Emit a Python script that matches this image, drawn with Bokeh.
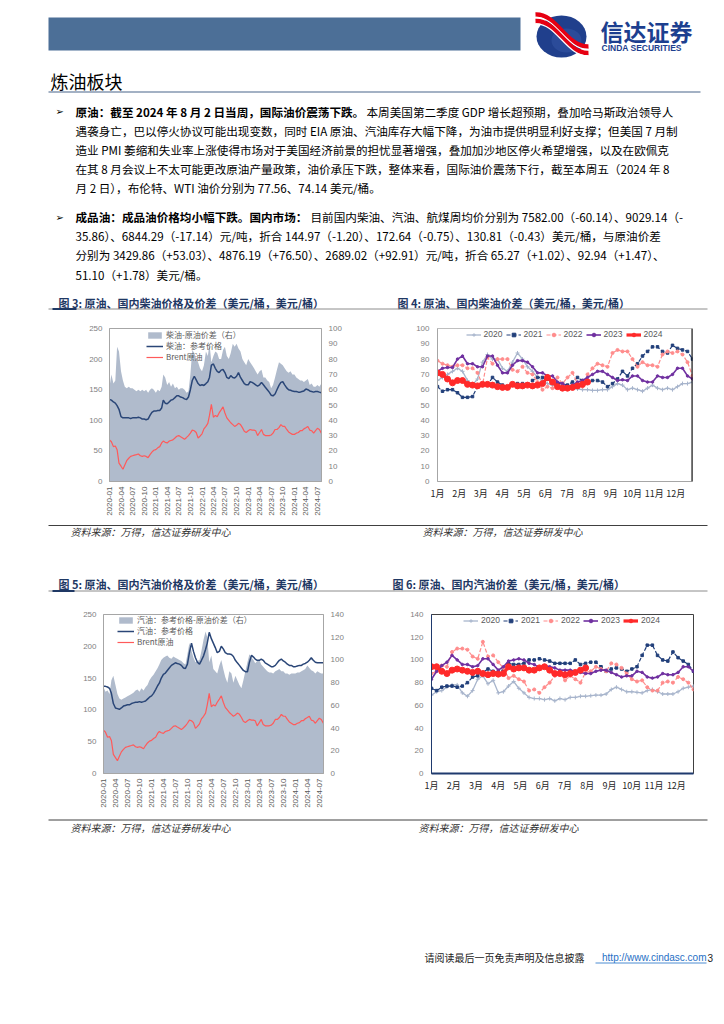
import math
import pandas as pd
from bokeh.plotting import figure
from bokeh.models import (Range1d, LinearAxis, FixedTicker, Legend, LegendItem,
                          DatetimeTickFormatter, Span)
from bokeh.layouts import column, row
from bokeh.embed import file_html
from bokeh.resources import INLINE
from bokeh.core.properties import value

CJK = "Noto Sans CJK SC"
LAT = "Liberation Sans"
NAVY = "#1f3864"
BODY = "11.6px"

# ---------------- data ----------------
month_starts = pd.date_range("2020-01-01", "2024-08-01", freq="MS")
half_month = []
for d in month_starts:
    half_month.append(d)
    if d != month_starts[-1]:
        half_month.append(d + pd.Timedelta(days=15))
dates = pd.DatetimeIndex(half_month)
date_end = pd.Timestamp("2024-08-02")
quarter_ticks = pd.date_range("2020-01-01", "2024-07-01", freq="QS")

brent = [
    68, 65, 57, 58, 52, 30, 25, 20, 27, 34, 38, 41, 42, 43, 44, 45, 42, 41, 42, 41, 39, 44, 48, 51,
    52, 55, 57, 63, 66, 64, 63, 66, 67, 68, 71, 74, 75, 73, 71, 69, 72, 75, 79, 84, 83, 80, 71, 74,
    78, 86, 90, 95, 108, 126, 105, 108, 106, 112, 117, 122, 112, 104, 100, 96, 93, 90, 92, 95, 93, 88, 82, 80,
    83, 85, 84, 84, 83, 75, 80, 85, 77, 75, 75, 75, 76, 79, 85, 85, 88, 93, 90, 90, 85, 81, 79, 77,
    77, 79, 80, 83, 83, 86, 88, 90, 84, 83, 79, 83, 87, 85, 79]
diesel_price = [
    134, 133, 130, 128, 124, 118, 106, 104, 104, 104, 104, 103, 104, 104, 104, 105, 104, 102, 102, 101, 102, 108, 113, 115,
    115, 116, 116, 120, 133, 128, 127, 130, 133, 134, 137, 140, 140, 138, 137, 135, 134, 138, 150, 165, 172, 166, 160, 157,
    158, 157, 160, 163, 170, 190, 192, 185, 180, 178, 182, 183, 178, 170, 168, 173, 170, 169, 172, 178, 170, 165, 160, 158,
    158, 163, 162, 160, 158, 156, 158, 162, 158, 154, 150, 146, 141, 140, 143, 150, 157, 162, 163, 158, 153, 150, 149, 148,
    147, 147, 146, 146, 147, 148, 151, 150, 148, 147, 146, 147, 147, 146, 145]
diesel_spread = [
    62, 70, 64, 66, 88, 85, 72, 66, 62, 61, 62, 61, 61, 60, 59, 60, 59, 60, 59, 60, 58, 60, 61, 60,
    58, 60, 59, 62, 70, 68, 63, 65, 62, 64, 61, 62, 60, 61, 61, 60, 58, 59, 70, 86, 84, 80, 78, 74,
    72, 76, 85, 82, 90, 78, 82, 85, 84, 80, 80, 86, 88, 82, 80, 84, 90, 88, 90, 87, 85, 80, 78, 76,
    80, 78, 76, 74, 72, 70, 72, 73, 68, 68, 66, 65, 61, 63, 68, 73, 78, 77, 76, 74, 72, 71, 72, 70,
    70, 68, 67, 66, 66, 65, 66, 67, 63, 64, 62, 62, 63, 62, 64]
gasoline_price = [
    137, 137, 136, 134, 126, 110, 103, 102, 101, 103, 106, 107, 108, 108, 110, 111, 112, 112, 113, 112, 113, 114, 117, 120,
    122, 126, 132, 138, 142, 150, 156, 158, 162, 166, 170, 172, 174, 173, 172, 170, 166, 165, 172, 190, 205, 192, 182, 175,
    172, 178, 185, 195, 205, 222, 212, 205, 198, 190, 192, 200, 196, 190, 188, 188, 187, 184, 178, 174, 170, 166, 162, 160,
    160, 175, 186, 183, 180, 178, 178, 180, 178, 174, 172, 170, 168, 168, 170, 174, 178, 180, 177, 175, 172, 170, 170, 168,
    168, 169, 170, 170, 172, 173, 175, 178, 182, 178, 175, 174, 174, 174, 174]
gasoline_spread = [
    76, 72, 73, 70, 82, 86, 78, 70, 66, 65, 66, 67, 68, 69, 70, 71, 73, 74, 72, 75, 73, 76, 78, 82,
    85, 87, 90, 93, 96, 100, 102, 103, 104, 102, 101, 103, 102, 101, 100, 99, 97, 96, 105, 115, 108, 102, 98, 99,
    100, 108, 118, 125, 120, 98, 104, 92, 90, 88, 95, 100, 92, 85, 80, 90, 88, 80, 86, 82, 78, 75, 82, 90,
    98, 105, 102, 100, 97, 99, 100, 96, 94, 92, 90, 89, 89, 88, 90, 91, 92, 90, 90, 88, 88, 87, 88, 88,
    88, 89, 89, 90, 91, 92, 95, 93, 91, 90, 88, 90, 89, 88, 88]

month_labels = ["1月", "2月", "3月", "4月", "5月", "6月", "7月", "8月", "9月", "10月", "11月", "12月"]
years = ["2020", "2021", "2022", "2023", "2024"]

diesel_crack = {
    "2020": [66, 68, 70, 72, 74, 72, 66, 63, 67, 78, 83, 80, 80, 74, 72, 78, 84, 80, 75, 72, 68, 66, 64, 63, 62, 62,
             61, 61, 60.5, 60, 60, 59.5, 59.5, 60, 60, 62, 64, 63, 60, 61, 60, 59, 61, 63, 61, 60, 61, 60, 62, 64, 64, 65],
    "2021": [62, 59, 60, 60, 58, 55, 55, 55.5, 62, 63, 63, 68, 65, 63, 62, 63, 64, 64, 63, 66, 68, 68, 67, 65, 64, 64,
             63, 65, 68, 66, 65, 66, 66, 65, 62, 64, 67, 72, 69, 74, 77, 82, 85, 88, 88, 85, 84, 89, 87, 86, 85, 80],
    "2022": [79, 77, 76, 75, 76, 76, 74, 74, 71, 63, 81, 77, 80, 80, 80, 73, 72, 75, 71, 70, 65, 60, 62, 61, 68, 64,
             68, 71, 64, 62, 70, 74, 77, 76, 75, 84, 86, 85, 85, 80, 75, 78, 76, 76, 75, 83, 85, 84, 85, 83, 78, 69],
    "2023": [72, 74, 74.5, 74.5, 80, 82, 77, 77, 75, 75, 82, 82, 76, 71, 71, 76, 79, 79, 78, 75, 71, 71, 69, 69, 65, 64,
             62, 63, 65, 66, 68, 70, 72, 72, 70, 68, 66, 66.5, 66, 69, 69, 66, 65, 65, 69, 68, 68, 70, 74, 74, 69, 67],
    "2024": [71, 70, 67, 64.5, 66, 66, 63.5, 63, 62.5, 63.5, 63.5, 63, 62, 61.5, 61.5, 63.5, 62.5, 62.5, 63, 62.5, 63,
             64, 68, 65, 62, 61, 61, 61.5, 62.5, 63.5, 65],
}
gasoline_crack = {
    "2020": [69, 72, 73, 76, 78, 78, 71, 68, 73, 83, 86, 79, 82, 71, 72, 77, 81, 75, 71, 67, 66, 66, 65, 66, 64, 66,
             65, 67, 67, 68, 68, 68.5, 69, 69, 70, 74, 76, 74, 72, 72, 71.5, 71, 73, 74, 72, 70, 70, 70, 72, 75, 76, 77],
    "2021": [75, 73, 76, 77, 77, 76, 77, 80, 85, 86, 89, 92, 90, 89, 91, 97, 96, 96, 97, 100, 100, 101, 100, 99, 97, 97,
             97, 97, 100, 96, 97, 98, 98, 94, 90, 92, 93, 92, 90, 92, 94, 104, 113, 113, 104, 100, 99, 107, 102, 99, 96, 90],
    "2022": [88, 90, 95, 94, 107, 110, 110, 109, 103, 101, 116, 103, 104, 98, 93, 84, 86, 83, 81, 73, 74, 71, 76, 80, 86, 89,
             82, 86, 83, 80, 89, 90, 94, 92, 90, 97, 96, 93, 88, 83, 81, 82, 76, 73, 73, 80, 81, 80, 85, 83, 80, 74],
    "2023": [83, 90, 95, 98, 104, 100, 96, 96, 94, 95, 101, 101, 96, 91, 94, 99, 100, 101, 100, 97, 96, 93, 95, 94, 93, 91,
             91, 91, 90, 89, 88, 88, 90, 91, 91, 89, 87, 85, 86, 86, 90, 89, 85, 84, 85, 88, 87, 87, 89, 94, 94, 90],
    "2024": [94, 94, 90, 88, 91, 92, 91, 90, 89, 90, 88, 87, 88, 87.5, 88, 94, 92, 93, 93, 91, 91, 93, 94, 91, 88, 88,
             87, 88, 89, 91, 93],
}

year_styles = {
    "2020": dict(color="#a8b5cc", width=1.3, dash="solid", marker="cross", size=4),
    "2021": dict(color="#213f7a", width=1.2, dash="4 2", marker="square", size=2.5),
    "2022": dict(color="#ff8c8c", width=1.2, dash="4 2", marker="circle", size=3),
    "2023": dict(color="#7030a0", width=1.6, dash="solid", marker="circle", size=2.5),
    "2024": dict(color="#ff2a2a", width=3.2, dash="solid", marker="circle", size=6),
}


# ---------------- helpers ----------------
def page_fig(y0, y1):
    p = figure(width=724, height=y1 - y0, x_range=Range1d(0, 724), y_range=Range1d(y1, y0),
               title=None, x_axis_location=None, y_axis_location=None, toolbar_location=None,
               output_backend="svg", min_border=0, outline_line_color=None)
    p.xgrid.visible = False
    p.ygrid.visible = False
    return p


def put(p, x, y, s, size=BODY, color="black", style="normal", font=CJK, align="left"):
    p.text(x=[x], y=[y], text=[s], text_font=value(font), text_font_size=size,
           text_color=color, text_font_style=style, text_align=align, text_baseline="middle")


def hline(p, x0, x1, y, color="#404040", width=1.0):
    p.line([x0, x1], [y, y], line_color=color, line_width=width)


def no_ticks(ax):
    ax.major_tick_line_color = None
    ax.minor_tick_line_color = None
    ax.major_tick_out = 0
    ax.major_tick_in = 0
    ax.minor_tick_out = 0
    ax.minor_tick_in = 0
    ax.axis_label_standoff = 0


def style_yaxes(p, standoff=7):
    for ax in p.yaxis:
        ax.major_label_text_font_size = "8px"
        ax.major_label_text_font = LAT
        ax.major_label_text_color = "#7f7f7f"
        ax.axis_line_color = "#a6a6a6"
        no_ticks(ax)
        ax.major_label_standoff = standoff


def price_chart(spread, price, right_end, right_step, labels, borders, height, legend_xy):
    l, r, t, b = borders
    p = figure(width=362, height=height, title=None, x_axis_type="datetime",
               x_range=Range1d(dates[0], date_end), y_range=Range1d(0, 250),
               toolbar_location=None, output_backend="svg",
               min_border_left=l, min_border_right=r, min_border_top=t, min_border_bottom=b,
               outline_line_color="#a6a6a6", background_fill_color="white", border_fill_color="white")
    p.xgrid.visible = False
    p.ygrid.visible = False
    p.extra_y_ranges = {"right": Range1d(0, right_end)}
    a = p.varea(x=dates, y1=0, y2=spread, y_range_name="right", fill_color="#b0bbcc")
    l1 = p.line(dates, price, line_color="#2a4677", line_width=1.5)
    l2 = p.line(dates, brent, line_color="#ff5a5a", line_width=1.2)
    p.yaxis.ticker = FixedTicker(ticks=list(range(0, 251, 50)))
    rax = LinearAxis(y_range_name="right", ticker=FixedTicker(ticks=list(range(0, right_end + 1, right_step))))
    p.add_layout(rax, "right")
    style_yaxes(p)
    xa = p.xaxis[0]
    xa.ticker = FixedTicker(ticks=[int(t.value // 10**6) for t in quarter_ticks])
    fmt = "%Y-%m"
    xa.formatter = DatetimeTickFormatter(microseconds=fmt, milliseconds=fmt, seconds=fmt, minsec=fmt,
                                         minutes=fmt, hourmin=fmt, hours=fmt, days=fmt, months=fmt,
                                         years=fmt, strip_leading_zeros=False)
    xa.major_label_orientation = math.pi / 2
    xa.major_label_text_font_size = "8px"
    xa.major_label_text_font = LAT
    xa.major_label_text_color = "#595959"
    xa.axis_line_color = "#a6a6a6"
    no_ticks(xa)
    xa.major_label_standoff = 5
    legend = Legend(items=[LegendItem(label=labels[0], renderers=[a]),
                           LegendItem(label=labels[1], renderers=[l1]),
                           LegendItem(label=labels[2], renderers=[l2])],
                    location=legend_xy, orientation="vertical", background_fill_alpha=0,
                    border_line_color=None, padding=0, margin=0, spacing=0,
                    glyph_width=17, glyph_height=8, label_height=8, label_standoff=3,
                    label_text_font=CJK, label_text_font_size="8px", label_text_color="#595959",
                    label_text_line_height=1.0)
    p.add_layout(legend)
    return p


def crack_chart(data, ymax, ystep, borders, height, kind):
    l, r, t, b = borders
    xend = 51 * 12 / 52
    p = figure(width=362, height=height, title=None, x_range=Range1d(0, xend), y_range=Range1d(0, ymax),
               toolbar_location=None, output_backend="svg",
               min_border_left=l, min_border_right=r, min_border_top=t, min_border_bottom=b,
               background_fill_color="white", border_fill_color="white")
    p.xgrid.visible = False
    p.ygrid.visible = False
    items = []
    for y in years:
        vals = data[y]
        st = year_styles[y]
        xs = [i * 12 / 52 for i in range(len(vals))]
        ln = p.line(xs, vals, line_color=st["color"], line_width=st["width"], line_dash=st["dash"])
        mk = p.scatter(xs, vals, marker=st["marker"], size=st["size"], line_color=st["color"],
                       fill_color=st["color"], line_width=1)
        items.append(LegendItem(label=y, renderers=[ln, mk]))
    p.yaxis.ticker = FixedTicker(ticks=list(range(0, ymax + 1, ystep)))
    style_yaxes(p, standoff=8)
    xa = p.xaxis[0]
    xa.ticker = FixedTicker(ticks=list(range(12)))
    xa.major_label_overrides = {i: month_labels[i] for i in range(12)}
    xa.major_label_text_font = CJK
    xa.major_label_text_font_size = "9px"
    xa.major_label_text_color = "#262626"
    no_ticks(xa)
    xa.major_label_standoff = 5
    if kind == "diesel":
        p.outline_line_color = "#bfbfbf"
        xa.axis_line_color = "#a6a6a6"
        p.add_layout(Span(location=xend, dimension="height", line_color="black", line_width=2))
    else:
        p.outline_line_color = "#404040"
        xa.axis_line_color = "#1f3a6e"
        xa.axis_line_width = 2
        for ax in p.yaxis:
            ax.axis_line_color = "#1f3a6e"
    legend = Legend(items=items, location="top_center", orientation="horizontal",
                    background_fill_alpha=0, border_line_color=None, padding=0, margin=1, spacing=2,
                    glyph_width=15, glyph_height=9, label_height=9, label_width=20, label_standoff=3,
                    label_text_font=LAT, label_text_font_size="8.5px", label_text_color="#595959",
                    label_text_line_height=1.0)
    p.add_layout(legend)
    return p


# ---------------- top band (page y 0..318) ----------------
top = page_fig(0, 318)
top.quad(left=48, right=520, top=17, bottom=50, fill_color="#4c6f97", line_color=None)
# logo
top.ellipse(x=561, y=36, width=50, height=42, fill_color="#203f8c", line_color=None)
top.ellipse(x=566, y=40, width=30, height=24, fill_color="#3657a6", line_color=None, fill_alpha=0.5)
for k, c, w in [(-5, "#e60012", 4.5), (-2.2, "white", 1.2), (1.5, "#e60012", 4.5), (4.3, "white", 1.2)]:
    top.bezier(x0=[535], y0=[19 + k], x1=[588], y1=[51 + k], cx0=[556], cy0=[18 + k],
               cx1=[566], cy1=[52 + k], line_color=c, line_width=w)
put(top, 600, 30, "信达证券", size="23px", color="#1d3f8f", style="bold")
put(top, 601, 47, "CINDA SECURITIES", size="8.5px", color="#1d3f8f", style="bold", font=LAT)
put(top, 50, 80, "炼油板块", size="18px", color="black")
hline(top, 48, 700, 91.5, color="#8497b0", width=1.5)

put(top, 55, 111, "➢", size="10px", font="DejaVu Sans")
put(top, 75, 111, "原油：截至 2024 年 8 月 2 日当周，国际油价震荡下跌。", style="bold")
put(top, 366, 111, "本周美国第二季度 GDP 增长超预期，叠加哈马斯政治领导人")
put(top, 75, 130.3, "遇袭身亡，巴以停火协议可能出现变数，同时 EIA 原油、汽油库存大幅下降，为油市提供明显利好支撑；但美国 7 月制")
put(top, 75, 149.7, "造业 PMI 萎缩和失业率上涨使得市场对于美国经济前景的担忧显著增强，叠加加沙地区停火希望增强，以及在欧佩克")
put(top, 75, 168.7, "在其 8 月会议上不太可能更改原油产量政策，油价承压下跌，整体来看，国际油价震荡下行，截至本周五（2024 年 8")
put(top, 75, 187.7, "月 2 日），布伦特、WTI 油价分别为 77.56、74.14 美元/桶。")

put(top, 55, 216.7, "➢", size="10px", font="DejaVu Sans")
put(top, 75, 216.7, "成品油：成品油价格均小幅下跌。国内市场：", style="bold")
put(top, 310, 216.7, "目前国内柴油、汽油、航煤周均价分别为 7582.00（-60.14）、9029.14（-")
put(top, 75, 235.7, "35.86）、6844.29（-17.14）元/吨，折合 144.97（-1.20）、172.64（-0.75）、130.81（-0.43）美元/桶，与原油价差")
put(top, 75, 254.7, "分别为 3429.86（+53.03）、4876.19（+76.50）、2689.02（+92.91）元/吨，折合 65.27（+1.02）、92.94（+1.47）、")
put(top, 75, 274, "51.10（+1.78）美元/桶。")

put(top, 58, 302, "图 3: 原油、国内柴油价格及价差（美元/桶，美元/桶）", size="11px", color=NAVY, style="bold")
put(top, 397, 302, "图 4: 原油、国内柴油价差（美元/桶，美元/桶）", size="11px", color=NAVY, style="bold")
hline(top, 48, 707, 308.5, color="#8c8c8c", width=1)
hline(top, 52, 76, 308.5, color=NAVY, width=2)

# ---------------- row 1 (page y 318..520) ----------------
f3 = price_chart(diesel_spread, diesel_price, 100, 10,
                 ["柴油-原油价差（右）", "柴油：参考价格", "Brent原油"],
                 (109, 41, 4, 39), 202, (37, 119))
f4 = crack_chart(diesel_crack, 100, 10, (75, 32, 10, 25), 202, "diesel")

# ---------------- middle band (page y 520..600) ----------------
mid = page_fig(520, 600)
hline(mid, 48, 707, 525, color="#404040", width=1)
put(mid, 70, 531, "资料来源：万得，信达证券研发中心", size="10px", color="#333333", style="italic")
put(mid, 422, 531, "资料来源：万得，信达证券研发中心", size="10px", color="#333333", style="italic")
put(mid, 58, 583, "图 5: 原油、国内汽油价格及价差（美元/桶，美元/桶）", size="11px", color=NAVY, style="bold")
put(mid, 392, 583, "图 6: 原油、国内汽油价差（美元/桶，美元/桶）", size="11px", color=NAVY, style="bold")
hline(mid, 48, 707, 590.5, color="#8c8c8c", width=1)
hline(mid, 52, 74, 590.5, color=NAVY, width=2)

# ---------------- row 2 (page y 600..815) ----------------
f5 = price_chart(gasoline_spread, gasoline_price, 140, 20,
                 ["汽油：参考价格-原油价差（右）", "汽油：参考价格", "Brent原油"],
                 (103, 39, 4, 42), 215, (14, 126))
f6 = crack_chart(gasoline_crack, 140, 20, (69, 31, 14, 29), 215, "gasoline")

# ---------------- bottom band (page y 815..1022) ----------------
bot = page_fig(815, 1022)
hline(bot, 48, 707, 819.5, color="#404040", width=1)
put(bot, 70, 826.7, "资料来源：万得，信达证券研发中心", size="10px", color="#333333", style="italic")
put(bot, 418, 826.7, "资料来源：万得，信达证券研发中心", size="10px", color="#333333", style="italic")
put(bot, 424, 957, "请阅读最后一页免责声明及信息披露", size="10px", color="#222222")
put(bot, 706, 957, "http://www.cindasc.com", size="10px", color="#1f6fc5", font=LAT, align="right")
hline(bot, 595, 706, 962.5, color="#1f6fc5", width=0.8)
put(bot, 707, 957, "3", size="10px", color="#222222", font=LAT)

layout = column(top, row(f3, f4), mid, row(f5, f6), bot)

with open("out.html", "w") as fh:
    fh.write(file_html(layout, INLINE))
